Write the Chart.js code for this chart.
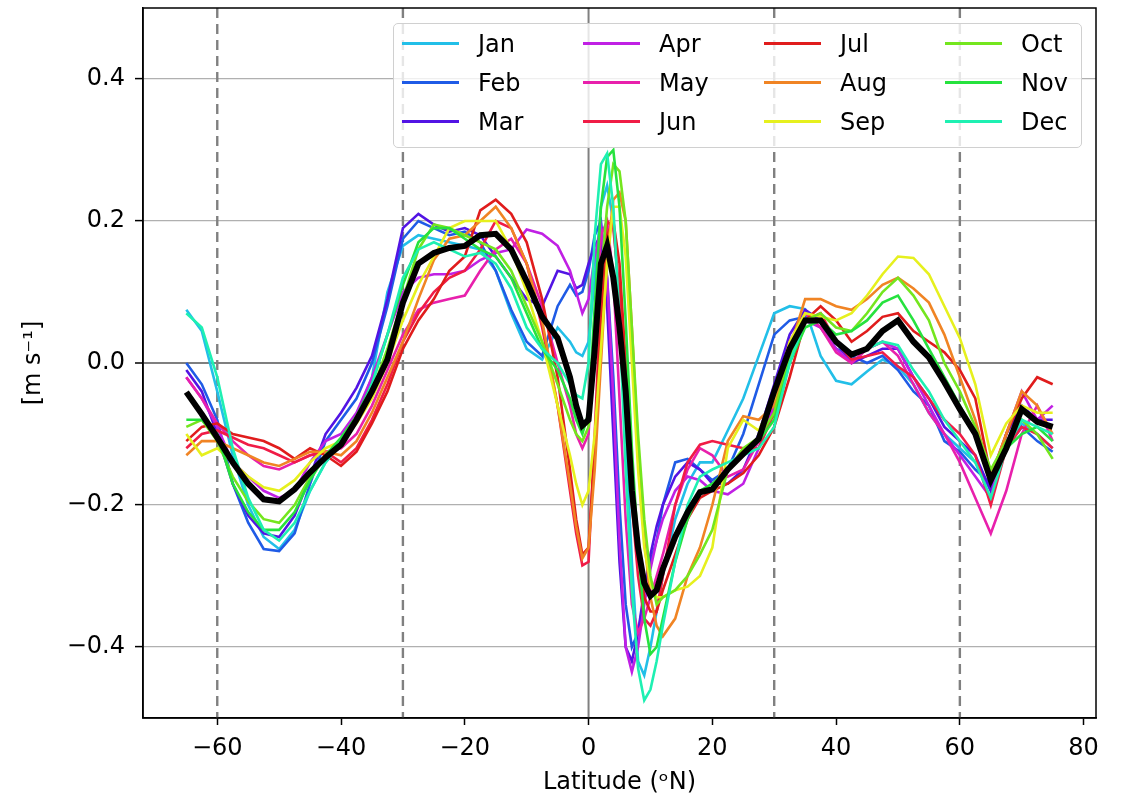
<!DOCTYPE html>
<html>
<head>
<meta charset="utf-8">
<script src="https://cdn.jsdelivr.net/npm/chart.js@4.4.0/dist/chart.umd.min.js"></script>
<style>
  html, body { margin: 0; padding: 0; background: #fff; }
  #wrap { position: relative; width: 1123px; height: 798px; }
  #chart { display: block; }
  #legend {
    position: absolute; left: 393px; top: 23px; width: 679px;
    padding: 0 0 6px 8px; border: 1px solid #d0d0d0; border-radius: 5px;
    background: rgba(255, 255, 255, 0.8);
    display: grid; grid-auto-flow: column;
    grid-template-rows: repeat(3, 39px);
    grid-template-columns: 181px 181px 181px 1fr;
    font-family: "DejaVu Sans", sans-serif; font-size: 24px; color: #000;
  }
  .item { display: flex; align-items: center; white-space: nowrap; }
  .swatch { width: 57px; height: 3px; margin-right: 19px; flex: none; }
</style>
</head>
<body>
<div id="wrap">
  <canvas id="chart" width="1123" height="798"></canvas>
  <div id="legend"></div>
</div>
<script>
// latitude grid shared by every curve
var lat = [-65,-62.5,-60,-57.5,-55,-52.5,-50,-47.5,-45,-42.5,
  -40,-37.5,-35,-32.5,-30,-27.5,-25,-22.5,-20,-17.5,
  -15,-12.5,-10,-7.5,-5,-3,-2,-1,0,1,
  2,3,4,5,6,7,8,9,10,11,
  12,14,16,18,20,22.5,25,27.5,30,32.5,
  35,37.5,40,42.5,45,47.5,50,52.5,55,57.5,
  60,62.5,65,67.5,70,72.5,75];

var months = ["Jan","Feb","Mar","Apr","May","Jun","Jul","Aug","Sep","Oct","Nov","Dec"];
var colors = ["#22bfe8","#1f5be6","#5214e4","#c020e4","#e820ac","#f01c46",
  "#e01c1c","#f08424","#e6f01e","#74e61e","#26e23e","#1ef0b2"];

var jan = [0.075,0.045,-0.04,-0.13,-0.2,-0.245,-0.262,-0.235,-0.18,-0.14,
  -0.115,-0.075,-0.02,0.1,0.165,0.18,0.175,0.17,0.165,0.16,
  0.13,0.07,0.02,0.005,0.05,0.03,0.015,0.01,0.03,0.12,
  0.22,0.25,0.2,0.08,-0.1,-0.28,-0.42,-0.44,-0.4,-0.35,
  -0.3,-0.22,-0.17,-0.14,-0.14,-0.095,-0.05,0.01,0.07,0.08,
  0.076,0.01,-0.025,-0.03,-0.012,0.005,-0.005,-0.03,-0.07,-0.1,
  -0.12,-0.14,-0.18,-0.12,-0.085,-0.1,-0.12];
var feb = [0.0,-0.03,-0.08,-0.17,-0.225,-0.262,-0.265,-0.24,-0.17,-0.11,
  -0.08,-0.05,0.0,0.08,0.175,0.2,0.19,0.18,0.185,0.17,
  0.13,0.075,0.03,0.01,0.08,0.11,0.095,0.1,0.13,0.18,
  0.2,0.12,-0.02,-0.2,-0.34,-0.4,-0.38,-0.33,-0.28,-0.25,
  -0.2,-0.14,-0.135,-0.15,-0.165,-0.15,-0.1,-0.03,0.04,0.06,
  0.065,0.05,0.02,0.01,0.0,0.01,-0.01,-0.04,-0.06,-0.11,
  -0.125,-0.15,-0.17,-0.12,-0.09,-0.11,-0.125];
var mar = [-0.01,-0.04,-0.1,-0.17,-0.215,-0.24,-0.245,-0.215,-0.16,-0.1,
  -0.07,-0.035,0.01,0.09,0.19,0.21,0.195,0.185,0.19,0.18,
  0.15,0.12,0.09,0.08,0.13,0.125,0.105,0.11,0.14,0.165,
  0.18,0.08,-0.1,-0.28,-0.4,-0.42,-0.38,-0.32,-0.27,-0.23,
  -0.2,-0.16,-0.14,-0.15,-0.17,-0.17,-0.15,-0.1,-0.03,0.04,
  0.075,0.06,0.03,0.0,0.01,0.02,0.02,-0.02,-0.05,-0.09,
  -0.11,-0.13,-0.18,-0.1,-0.06,-0.08,-0.08];
var apr = [-0.02,-0.05,-0.09,-0.14,-0.16,-0.18,-0.19,-0.18,-0.14,-0.11,
  -0.1,-0.07,-0.02,0.04,0.1,0.12,0.125,0.125,0.13,0.145,
  0.155,0.16,0.188,0.182,0.165,0.13,0.1,0.07,0.09,0.15,
  0.19,0.12,-0.05,-0.25,-0.4,-0.435,-0.4,-0.34,-0.29,-0.25,
  -0.22,-0.18,-0.16,-0.165,-0.18,-0.185,-0.17,-0.12,-0.06,0.02,
  0.06,0.05,0.02,0.0,0.02,0.03,0.02,-0.02,-0.06,-0.1,
  -0.13,-0.16,-0.19,-0.1,-0.04,-0.08,-0.06];
var may = [-0.02,-0.05,-0.085,-0.11,-0.13,-0.145,-0.15,-0.14,-0.13,-0.125,
  -0.12,-0.1,-0.06,-0.01,0.04,0.075,0.085,0.09,0.095,0.13,
  0.16,0.175,0.14,0.08,0.0,-0.06,-0.1,-0.12,-0.1,0.05,
  0.18,0.2,0.12,-0.05,-0.22,-0.34,-0.38,-0.36,-0.33,-0.3,
  -0.27,-0.2,-0.15,-0.12,-0.13,-0.16,-0.15,-0.11,-0.05,0.03,
  0.07,0.05,0.015,0.0,0.02,0.03,0.01,-0.03,-0.07,-0.1,
  -0.14,-0.19,-0.24,-0.18,-0.1,-0.06,-0.11];
var jun = [-0.12,-0.1,-0.095,-0.105,-0.115,-0.12,-0.13,-0.14,-0.13,-0.125,
  -0.14,-0.12,-0.08,-0.03,0.03,0.07,0.1,0.12,0.13,0.16,
  0.2,0.19,0.14,0.05,-0.06,-0.18,-0.24,-0.285,-0.28,-0.1,
  0.1,0.2,0.19,0.1,-0.05,-0.2,-0.3,-0.36,-0.37,-0.35,
  -0.3,-0.2,-0.14,-0.115,-0.11,-0.115,-0.12,-0.12,-0.07,0.01,
  0.06,0.07,0.03,0.005,0.01,0.015,-0.005,-0.02,-0.05,-0.08,
  -0.1,-0.13,-0.2,-0.12,-0.09,-0.1,-0.12];
var jul = [-0.11,-0.09,-0.085,-0.1,-0.105,-0.11,-0.12,-0.135,-0.12,-0.13,
  -0.145,-0.125,-0.085,-0.04,0.02,0.06,0.09,0.13,0.15,0.215,
  0.23,0.21,0.17,0.09,-0.02,-0.15,-0.22,-0.27,-0.26,-0.12,
  0.06,0.18,0.2,0.14,0.0,-0.15,-0.27,-0.33,-0.35,-0.35,
  -0.32,-0.27,-0.22,-0.19,-0.18,-0.17,-0.155,-0.13,-0.09,-0.02,
  0.06,0.08,0.06,0.03,0.045,0.065,0.07,0.045,0.03,0.015,
  -0.01,-0.05,-0.16,-0.1,-0.05,-0.02,-0.03];
var aug = [-0.13,-0.11,-0.11,-0.12,-0.13,-0.14,-0.145,-0.135,-0.125,-0.125,
  -0.13,-0.11,-0.07,-0.02,0.03,0.09,0.145,0.175,0.18,0.2,
  0.22,0.19,0.14,0.06,-0.06,-0.17,-0.23,-0.275,-0.26,-0.15,
  0.0,0.15,0.23,0.24,0.2,0.05,-0.12,-0.25,-0.33,-0.37,
  -0.385,-0.36,-0.3,-0.26,-0.2,-0.11,-0.075,-0.08,-0.06,0.02,
  0.09,0.09,0.08,0.075,0.09,0.11,0.12,0.105,0.085,0.04,
  -0.02,-0.08,-0.16,-0.1,-0.04,-0.06,-0.1];
var sep = [-0.1,-0.13,-0.12,-0.14,-0.16,-0.175,-0.18,-0.165,-0.14,-0.12,
  -0.11,-0.085,-0.05,0.0,0.06,0.11,0.15,0.19,0.2,0.2,
  0.2,0.16,0.1,0.03,-0.06,-0.13,-0.17,-0.2,-0.18,-0.1,
  0.02,0.14,0.22,0.22,0.15,0.0,-0.15,-0.26,-0.31,-0.33,
  -0.33,-0.32,-0.315,-0.3,-0.26,-0.12,-0.08,-0.095,-0.05,0.03,
  0.07,0.065,0.06,0.07,0.095,0.125,0.15,0.148,0.125,0.08,
  0.035,-0.03,-0.13,-0.085,-0.06,-0.07,-0.07];
var oct = [-0.09,-0.08,-0.11,-0.16,-0.195,-0.22,-0.225,-0.2,-0.16,-0.13,
  -0.11,-0.08,-0.04,0.02,0.09,0.16,0.195,0.19,0.18,0.17,
  0.16,0.13,0.08,0.03,-0.03,-0.08,-0.1,-0.11,-0.09,0.0,
  0.12,0.22,0.28,0.27,0.2,0.05,-0.1,-0.22,-0.3,-0.34,
  -0.33,-0.32,-0.3,-0.27,-0.235,-0.15,-0.12,-0.105,-0.07,0.01,
  0.06,0.07,0.05,0.045,0.07,0.1,0.12,0.095,0.06,0.0,
  -0.04,-0.09,-0.15,-0.11,-0.08,-0.1,-0.135];
var nov = [-0.08,-0.08,-0.1,-0.17,-0.21,-0.235,-0.235,-0.21,-0.165,-0.13,
  -0.105,-0.075,-0.03,0.04,0.11,0.17,0.19,0.19,0.175,0.16,
  0.15,0.12,0.07,0.02,-0.01,-0.05,-0.08,-0.1,-0.07,0.08,
  0.22,0.29,0.3,0.22,0.06,-0.12,-0.26,-0.36,-0.41,-0.4,
  -0.36,-0.28,-0.22,-0.18,-0.17,-0.15,-0.13,-0.11,-0.08,0.0,
  0.05,0.06,0.04,0.045,0.06,0.085,0.095,0.06,0.02,-0.02,
  -0.06,-0.1,-0.16,-0.12,-0.1,-0.09,-0.11];
var dec = [0.07,0.05,-0.02,-0.12,-0.19,-0.235,-0.25,-0.225,-0.18,-0.14,
  -0.11,-0.08,-0.03,0.04,0.12,0.16,0.17,0.16,0.15,0.155,
  0.14,0.105,0.05,0.02,0.0,-0.03,-0.045,-0.05,0.0,0.18,
  0.28,0.295,0.22,0.06,-0.15,-0.32,-0.43,-0.475,-0.46,-0.42,
  -0.37,-0.28,-0.2,-0.16,-0.15,-0.14,-0.13,-0.12,-0.09,0.0,
  0.06,0.06,0.03,0.01,0.02,0.03,0.025,-0.01,-0.04,-0.08,
  -0.11,-0.14,-0.19,-0.12,-0.08,-0.09,-0.1];
// annual mean (thick black)
var mean = [-0.041,-0.072,-0.105,-0.14,-0.17,-0.192,-0.195,-0.178,-0.154,-0.133,
  -0.115,-0.08,-0.04,0.005,0.085,0.14,0.155,0.162,0.165,0.18,
  0.182,0.16,0.115,0.065,0.035,-0.02,-0.06,-0.088,-0.08,0.02,
  0.14,0.165,0.12,0.05,-0.04,-0.18,-0.26,-0.31,-0.328,-0.32,
  -0.29,-0.245,-0.21,-0.182,-0.178,-0.15,-0.128,-0.107,-0.04,0.02,
  0.06,0.06,0.03,0.012,0.02,0.045,0.06,0.03,0.008,-0.027,
  -0.065,-0.1,-0.165,-0.12,-0.065,-0.083,-0.09];

var monthly = [jan, feb, mar, apr, may, jun, jul, aug, sep, oct, nov, dec];

var xTicks = [-60, -40, -20, 0, 20, 40, 60, 80];
var yTicks = [-0.4, -0.2, 0.0, 0.2, 0.4];
var dashedLats = [-60, -30, 30, 60];
var solidLats = [0];

function pts(vals) {
  return lat.map(function (x, i) { return { x: x, y: vals[i] }; });
}
function minus(s) { return s.replace("-", "\u2212"); }

// legend, column by column like matplotlib ncol=4
var legend = document.getElementById("legend");
months.forEach(function (m, i) {
  var item = document.createElement("div");
  item.className = "item";
  var sw = document.createElement("span");
  sw.className = "swatch";
  sw.style.background = colors[i];
  item.appendChild(sw);
  item.appendChild(document.createTextNode(m));
  legend.appendChild(item);
});

var datasets = monthly.map(function (vals, i) {
  return {
    label: months[i],
    data: pts(vals),
    borderColor: colors[i],
    borderWidth: 2.6,
    pointRadius: 0,
    tension: 0,
    order: 12 - i
  };
});
datasets.push({
  label: "Mean",
  data: pts(mean),
  borderColor: "#000",
  borderWidth: 6,
  pointRadius: 0,
  tension: 0,
  order: 0
});

var guides = {
  id: "guides",
  beforeDatasetsDraw: function (chart) {
    var ctx = chart.ctx, a = chart.chartArea, x = chart.scales.x;
    ctx.save();
    ctx.strokeStyle = "#808080";
    ctx.lineWidth = 2.4;
    ctx.setLineDash([10, 6]);
    dashedLats.forEach(function (v) {
      var px = x.getPixelForValue(v);
      ctx.beginPath(); ctx.moveTo(px, a.top); ctx.lineTo(px, a.bottom); ctx.stroke();
    });
    ctx.setLineDash([]);
    ctx.lineWidth = 2;
    solidLats.forEach(function (v) {
      var px = x.getPixelForValue(v);
      ctx.beginPath(); ctx.moveTo(px, a.top); ctx.lineTo(px, a.bottom); ctx.stroke();
    });
    ctx.restore();
  },
  afterDraw: function (chart) {
    var ctx = chart.ctx, a = chart.chartArea;
    ctx.save();
    ctx.strokeStyle = "#000";
    ctx.lineWidth = 1.5;
    ctx.strokeRect(a.left, a.top, a.right - a.left, a.bottom - a.top);
    ctx.restore();
  }
};

Chart.defaults.color = "#000";
Chart.defaults.font.family = "'DejaVu Sans', sans-serif";
Chart.defaults.font.size = 24;

new Chart(document.getElementById("chart").getContext("2d"), {
  type: "line",
  data: { datasets: datasets },
  plugins: [guides],
  options: {
    responsive: false,
    animation: false,
    devicePixelRatio: 1,
    layout: { padding: { top: 8, right: 27, left: 0, bottom: 0 } },
    plugins: { legend: { display: false }, tooltip: { enabled: false } },
    scales: {
      x: {
        type: "linear",
        min: -72,
        max: 82,
        afterFit: function (s) { s.height = 80; s.paddingLeft = 0; s.paddingRight = 0; },
        afterBuildTicks: function (s) { s.ticks = xTicks.map(function (v) { return { value: v }; }); },
        grid: { drawOnChartArea: false, tickLength: 7, tickColor: "#000", tickWidth: 1.5 },
        border: { color: "#000", width: 1.5 },
        ticks: {
          padding: 9,
          maxRotation: 0,
          callback: function (v) { return minus(String(v)); }
        },
        title: { display: true, text: "Latitude (\u1D52N)", padding: { top: 0, bottom: 1 } }
      },
      y: {
        min: -0.5,
        max: 0.5,
        afterFit: function (s) { s.width = 143; s.paddingTop = 0; s.paddingBottom = 0; },
        afterBuildTicks: function (s) { s.ticks = yTicks.map(function (v) { return { value: v }; }); },
        grid: {
          color: function (c) { return c.tick && c.tick.value === 0 ? "#7f7f7f" : "#b0b0b0"; },
          lineWidth: function (c) { return c.tick && c.tick.value === 0 ? 2 : 1.2; },
          tickLength: 8,
          tickColor: "#000",
          tickWidth: 1.5
        },
        border: { color: "#000", width: 1.5 },
        ticks: {
          padding: 10,
          callback: function (v) { return minus(v.toFixed(1)); }
        },
        title: { display: true, text: "[m s\u207B\u00B9]", padding: { top: 19, bottom: 0 } }
      }
    }
  }
});
</script>
</body>
</html>
